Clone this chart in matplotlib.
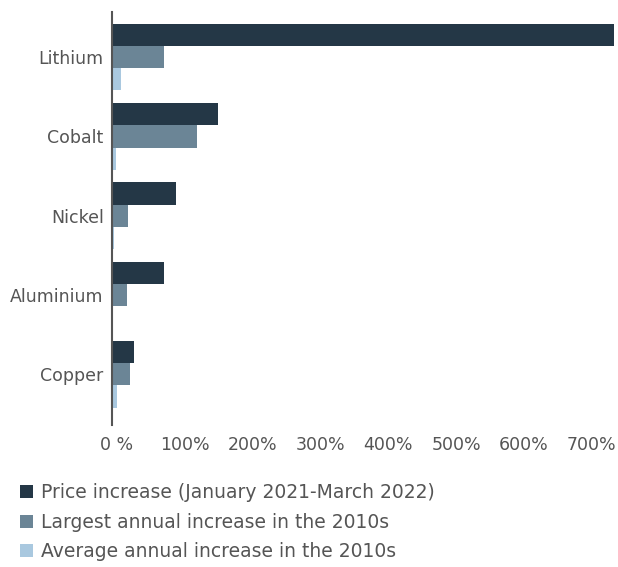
import numpy as np
import matplotlib.pyplot as plt
import matplotlib.transforms as mtransforms
from matplotlib.patches import Patch

metals = ['Lithium', 'Cobalt', 'Nickel', 'Aluminium', 'Copper']
price_increase = [740, 156, 94, 76, 33]
largest_annual = [77, 125, 23, 22, 27]
average_annual = [13, 6, 2.5, 1.5, 7]

series_names = ['Price increase (January 2021-March 2022)',
                'Largest annual increase in the 2010s',
                'Average annual increase in the 2010s']
colors = ['#243746', '#6b8596', '#a9c8df']
xticks = [0, 100, 200, 300, 400, 500, 600, 700]
xtick_labels = ['0 %', '100%', '200%', '300%', '400%', '500%', '600%', '700%']

plt.rcParams['font.family'] = ['DejaVu Sans']

fig = plt.figure(figsize=(6.18, 5.67), dpi=100)
ax = fig.add_axes([112/618, 1 - 425/567, 502/618, 413/567])

y = np.arange(len(metals))
h = 0.28
for i, vals in enumerate([price_increase, largest_annual, average_annual]):
    ax.barh(y + (i - 1) * h, vals, height=h, color=colors[i],
            edgecolor='none', label=series_names[i])

ax.set_ylim(4.64, -0.57)
ax.set_xlim(0, 740)
ax.set_yticks(y)
ax.set_yticklabels(metals, fontsize=12.5, color='#555555')
ax.set_xticks(xticks)
ax.set_xticklabels(xtick_labels, fontsize=12.5, color='#555555')
ax.tick_params(axis='both', length=0)
ax.tick_params(axis='x', pad=8)
ax.tick_params(axis='y', pad=6)

offset = mtransforms.ScaledTranslation(5/100, 0, fig.dpi_scale_trans)
for lbl in ax.get_xticklabels():
    lbl.set_transform(lbl.get_transform() + offset)

for s in ['top', 'right', 'bottom']:
    ax.spines[s].set_visible(False)
ax.spines['left'].set_color('#555555')
ax.spines['left'].set_linewidth(1.5)

handles = [Patch(facecolor=c, edgecolor='none') for c in colors]
fig.legend(handles, series_names, loc='upper left',
           bbox_to_anchor=(20/618, 1 - 483/567), frameon=False,
           borderpad=0, borderaxespad=0,
           fontsize=13.5, handlelength=0.7, handleheight=0.7,
           handletextpad=0.4, labelspacing=0.57, labelcolor='#555555')

fig.savefig('out.png', dpi=100)
